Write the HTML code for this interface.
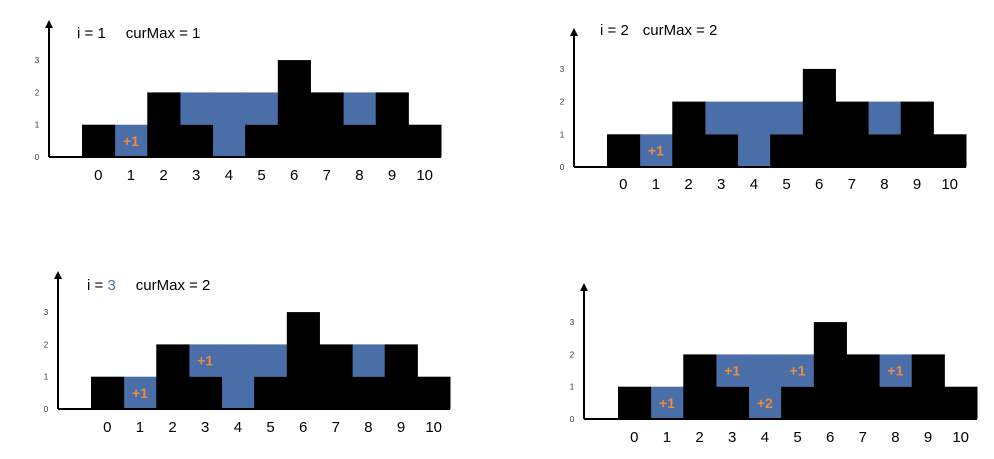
<!DOCTYPE html>
<html><head><meta charset="utf-8"><style>
body{margin:0;background:#fff;width:994px;height:459px;overflow:hidden}
svg{display:block}
</style></head><body>
<svg id="c" width="994" height="459" xmlns="http://www.w3.org/2000/svg" font-family="Liberation Sans, sans-serif"></svg>
<script>
const categories = ["0","1","2","3","4","5","6","7","8","9","10"];
const heights = [1,0,2,1,0,1,3,2,1,2,1];
const waterLevels = [1,1,2,2,2,2,3,2,2,2,1];
const yTicks = [0,1,2,3];
const panelI = ["1","2","3",""];
const panelCurMax = ["1","2","2",""];
// labels: [columnIndex, low, high, text]
const panelLabels = [
  [[1,0,1,"+1"]],
  [[1,0,1,"+1"]],
  [[1,0,1,"+1"],[3,1,2,"+1"]],
  [[1,0,1,"+1"],[3,1,2,"+1"],[4,0,1,"+2"],[5,1,2,"+1"],[8,1,2,"+1"]]
];
const layouts = [
  {ax:49,base:157,x0:82,x1:441,unit:32.3,top:20,tx:77,ty:38,ly:180},
  {ax:574,base:167,x0:607,x1:966,unit:32.7,top:28,tx:600,ty:35,ly:189},
  {ax:58,base:409,x0:91,x1:450,unit:32.3,top:271,tx:87,ty:290,ly:432},
  {ax:584,base:419,x0:618,x1:977,unit:32.3,top:283,tx:0,ty:0,ly:442}
];
const NS="http://www.w3.org/2000/svg";
const svg=document.getElementById('c');
function mk(tag,attrs,parent){const e=document.createElementNS(NS,tag);for(const k in attrs)e.setAttribute(k,attrs[k]);(parent||svg).appendChild(e);return e;}
layouts.forEach((L,p)=>{
  const g=mk('g',{});
  
  
  const bw=(L.x1-L.x0)/categories.length;
  const xs=i=>L.x0+i*bw;
  const ys=v=>L.base-v*L.unit;
  // water
  categories.forEach((c,i)=>{
    if(waterLevels[i]>heights[i]){
      const r=mk('rect',{x:xs(i),y:ys(waterLevels[i]),width:bw+0.5,height:(waterLevels[i]-heights[i])*L.unit,fill:'#4a6ea8'},g);
      
      
    }
  });
  categories.forEach((c,i)=>{
    if(heights[i]>0){
      const r=mk('rect',{x:xs(i),y:ys(heights[i]),width:bw+0.5,height:heights[i]*L.unit,fill:'#000'},g);
      
      
    }
    const t=mk('text',{x:xs(i)+bw/2,y:L.ly,'font-size':15,'text-anchor':'middle',fill:'#000'},g);
    t.textContent=c;
    
    
  });
  // axes
  const xa=mk('line',{x1:L.ax,y1:L.base,x2:L.x1,y2:L.base,stroke:'#000','stroke-width':2},g);
  
  
  const ya=mk('line',{x1:L.ax,y1:L.base,x2:L.ax,y2:L.top+6,stroke:'#000','stroke-width':2},g);
  
  
  const ar=mk('polygon',{points:`${L.ax-4},${L.top+8} ${L.ax+4},${L.top+8} ${L.ax},${L.top}`,fill:'#000'},g);
  
  
  yTicks.forEach(v=>{
    const t=mk('text',{x:L.ax-12,y:ys(v)+3,'font-size':8,'text-anchor':'middle',fill:'#333'},g);
    t.textContent=v;
    
    
  });
  panelLabels[p].forEach(([ci,lo,hi,txt])=>{
    const t=mk('text',{x:xs(ci)+bw/2,y:ys((lo+hi)/2)+5,'font-size':14,'font-weight':'bold','text-anchor':'middle',fill:'#f08a3c'},g);
    t.textContent=txt;
    
    
  });
  if(panelI[p]!==""){
    const t=mk('text',{x:L.tx,y:L.ty,'font-size':15,fill:'#000'},g);
    
    
    const a=mk('tspan',{},t);a.textContent='i = ';
    const b=mk('tspan',{fill:p===2?'#4a6ea8':'#000'},t);b.textContent=panelI[p];
    const d=mk('tspan',{dx:p===1?14:20},t);d.textContent='curMax = '+panelCurMax[p];
  }
});
</script>
</body></html>
